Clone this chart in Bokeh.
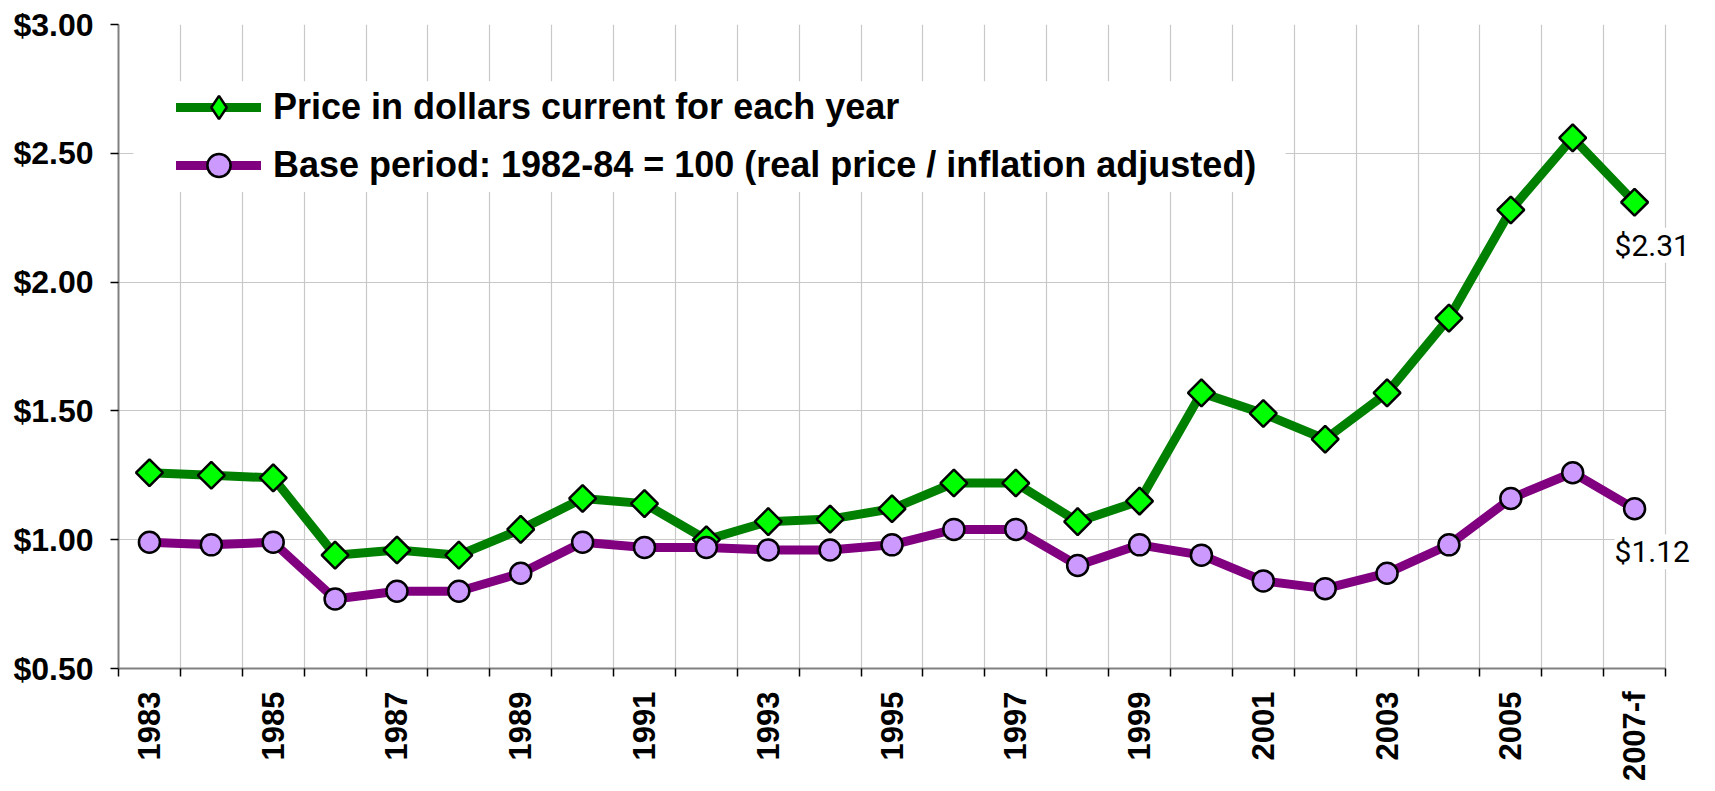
import numpy as np
from bokeh.plotting import figure
from bokeh.models import (ColumnDataSource, FixedTicker, NumeralTickFormatter, Range1d,
                          Legend, LegendItem, Label, BoxAnnotation)
from bokeh.embed import file_html
from bokeh.resources import INLINE

years = ["1983", "1984", "1985", "1986", "1987", "1988", "1989", "1990", "1991", "1992",
         "1993", "1994", "1995", "1996", "1997", "1998", "1999", "2000", "2001", "2002",
         "2003", "2004", "2005", "2006", "2007-f"]
nominal = [1.26, 1.25, 1.24, 0.94, 0.96, 0.94, 1.04, 1.16, 1.14, 1.00,
           1.07, 1.08, 1.12, 1.22, 1.22, 1.07, 1.15, 1.57, 1.49, 1.39,
           1.57, 1.86, 2.28, 2.56, 2.31]
real = [0.99, 0.98, 0.99, 0.77, 0.80, 0.80, 0.87, 0.99, 0.97, 0.97,
        0.96, 0.96, 0.98, 1.04, 1.04, 0.90, 0.98, 0.94, 0.84, 0.81,
        0.87, 0.98, 1.16, 1.26, 1.12]
y_ticks = [0.5, 1.0, 1.5, 2.0, 2.5, 3.0]
label_names = ["Price in dollars current for each year",
               "Base period: 1982-84 = 100 (real price / inflation adjusted)"]

n = len(years)
x = list(range(n))
src = ColumnDataSource(dict(x=x, nominal=nominal, real=real))
x_bounds = (-0.5, n - 0.5)

# frame extends past the last category so the end labels are not clipped
p = figure(width=1712, height=789, output_backend="svg", toolbar_location=None,
           x_range=Range1d(x_bounds[0], x_bounds[1] + 0.646),
           y_range=Range1d(y_ticks[0], y_ticks[-1]),
           min_border_left=118, min_border_right=7, min_border_top=24, min_border_bottom=121)
p.outline_line_color = None
p.background_fill_color = "white"

# grids
p.xaxis.ticker = FixedTicker(ticks=list(range(0, n, 2)),
                             minor_ticks=[i - 0.5 for i in range(n + 1)])
p.xgrid.grid_line_color = None
p.xgrid.minor_grid_line_color = "#c8c8c8"
p.xgrid.minor_grid_line_width = 1.2
p.yaxis.ticker = FixedTicker(ticks=y_ticks)
p.ygrid.grid_line_color = "#c8c8c8"
p.ygrid.grid_line_width = 1.2
p.ygrid.cross_bounds = x_bounds

# axes
for ax in (p.xaxis[0], p.yaxis[0]):
    ax.axis_line_color = "#808080"
    ax.axis_line_width = 2
    ax.major_label_text_font = "Liberation Sans"
    ax.major_label_text_font_style = "bold"
    ax.major_label_text_font_size = "32px"
    ax.major_label_text_color = "black"

p.yaxis.formatter = NumeralTickFormatter(format="$0.00")
p.yaxis.major_tick_out = 8
p.yaxis.major_tick_in = 0
p.yaxis.major_tick_line_color = "black"
p.yaxis.major_tick_line_width = 1.5
p.yaxis.minor_tick_line_color = None
p.yaxis.major_label_standoff = 17

p.xaxis.bounds = x_bounds
p.xaxis.major_label_overrides = {i: years[i] for i in range(0, n, 2)}
p.xaxis.major_label_text_font_size = "31px"
p.xaxis.major_tick_line_color = None
p.xaxis.major_tick_out = 8
p.xaxis.major_tick_in = 0
p.xaxis.minor_tick_out = 8
p.xaxis.minor_tick_in = 0
p.xaxis.minor_tick_line_color = "black"
p.xaxis.minor_tick_line_width = 1.5
p.xaxis.major_label_orientation = np.pi / 2
p.xaxis.major_label_standoff = 15

# legend backdrop
p.add_layout(BoxAnnotation(left=-0.26, right=18.36, bottom=2.35, top=2.78,
                           fill_color="white", fill_alpha=1.0, line_color=None))

# series
l1 = p.line("x", "nominal", source=src, line_color="#008000", line_width=9,
            line_join="round", line_cap="round")
m1 = p.scatter("x", "nominal", source=src, marker="square", angle=np.pi / 4, size=19,
               fill_color="#00FF00", line_color="black", line_width=2.5)
l2 = p.line("x", "real", source=src, line_color="#800080", line_width=9,
            line_join="round", line_cap="round")
m2 = p.scatter("x", "real", source=src, marker="circle", size=21,
               fill_color="#CC99FF", line_color="black", line_width=2.5)
# legend-only diamond sample (hidden in the plot area)
m1_leg = p.scatter("x", "nominal", source=src, marker="diamond", size=19,
                   fill_color="#00FF00", line_color="black", line_width=2.5, visible=False)

legend = Legend(items=[LegendItem(label=label_names[0], renderers=[l1, m1_leg]),
                       LegendItem(label=label_names[1], renderers=[l2, m2])],
                location=(58, 474), padding=0, margin=0, spacing=0,
                glyph_width=85, glyph_height=58, label_height=44, label_standoff=12,
                border_line_color=None, background_fill_alpha=0,
                label_text_font="Liberation Sans", label_text_font_style="bold",
                label_text_font_size="36px", label_text_color="black")
p.add_layout(legend)

# end labels (last value of each series)
for series in (nominal, real):
    p.add_layout(Label(x=x[-1], y=series[-1], text="$%.2f" % series[-1],
                       x_offset=-20, y_offset=-43,
                       text_font="Roboto", text_font_size="30px", text_color="black",
                       text_align="left", text_baseline="middle",
                       background_fill_color="white"))

open("out.html", "w").write(file_html(p, INLINE))
